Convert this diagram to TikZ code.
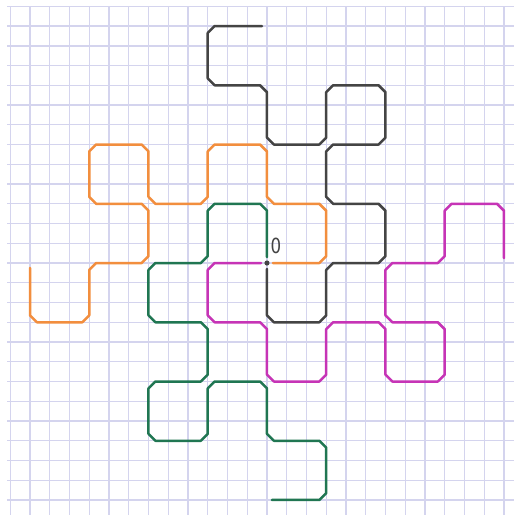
\documentclass[tikz,border=0pt]{standalone}
\usepackage{fontspec}
\setsansfont{DejaVu Sans}
\definecolor{gridc}{RGB}{212,212,238}
\definecolor{penblack}{RGB}{68,68,68}
\definecolor{penorange}{RGB}{242,142,62}
\definecolor{pengreen}{RGB}{32,118,82}
\definecolor{penmagenta}{RGB}{198,52,182}
\tikzset{
  gridline/.style={draw=gridc, line width=1pt},
  pen/.style={line width=1.8pt, line join=round, line cap=round},
}
\def\dragonpath{(0,-0.3) -- (0,-2.65) -- (0.35,-3) -- (2.65,-3) -- (3,-2.65) -- (3,-0.35) -- (3.35,0)
 -- (5.65,0) -- (6,0.35) -- (6,2.65) -- (5.65,3) -- (3.35,3) -- (3,3.35) -- (3,5.65) -- (3.35,6)
 -- (5.65,6) -- (6,6.35) -- (6,8.65) -- (5.65,9) -- (3.35,9) -- (3,8.65) -- (3,6.35) -- (2.65,6)
 -- (0.35,6) -- (0,6.35) -- (0,8.65) -- (-0.35,9) -- (-2.65,9) -- (-3,9.35) -- (-3,11.65) -- (-2.65,12)
 -- (-0.25,12)}
\begin{document}
\begin{tikzpicture}[x=0.5cm,y=0.5cm]
\useasboundingbox[fill=white] (-13.52,-12.76) rectangle (12.51,13.32);
\draw[gridline, step=1] (-13.15,-12.76) grid (12.51,13);
\coordinate (O) at (0,0);
\draw[pen, penblack] \dragonpath;
\draw[pen, penorange, rotate=90] \dragonpath;
\draw[pen, pengreen, rotate=180] \dragonpath;
\draw[pen, penmagenta, rotate=270] \dragonpath;
\fill[penblack] (O) circle (0.13);
\node[text=penblack, font=\sffamily\fontsize{15}{15}\selectfont, xscale=0.8, inner sep=0pt] (zero) at (0.45,0.85) {0};
\end{tikzpicture}
\end{document}
